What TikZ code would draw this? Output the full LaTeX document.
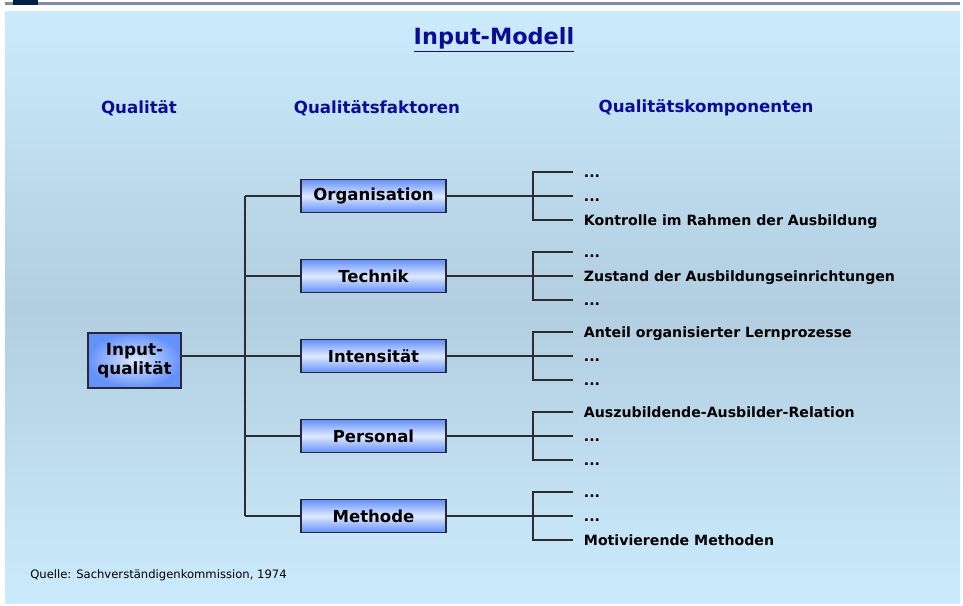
\documentclass[tikz,border=0pt]{standalone}
\usepackage{fontspec}
\setmainfont{DejaVu Sans}
\usetikzlibrary{calc}

\definecolor{panelTop}{RGB}{203,235,253}
\definecolor{panelMid}{RGB}{178,206,224}
\definecolor{headBlue}{RGB}{12,12,150}
\definecolor{boxBlue}{RGB}{100,145,250}
\definecolor{boxLight}{RGB}{222,232,255}
\definecolor{boxLine}{RGB}{40,40,60}
\definecolor{wireGray}{RGB}{45,45,45}
\definecolor{stripGray}{RGB}{130,140,160}
\definecolor{stripNavy}{RGB}{0,32,70}

\begin{document}
\begin{tikzpicture}[x=0.75pt,y=-0.75pt,
    header/.style={text=headBlue, font=\fontsize{12.5}{14}\selectfont\bfseries},
    factor/.style={draw=boxLine, line width=0.8pt, minimum width=108.75pt,
        minimum height=24.75pt, inner sep=0pt, top color=boxBlue,
        bottom color=boxBlue, middle color=boxLight,
        font=\fontsize{12.4}{14}\selectfont\bfseries},
    quality/.style={draw=boxLine, line width=0.8pt, minimum width=69.75pt,
        minimum height=41.25pt, inner sep=0pt, align=center,
        shading=radial, outer color=boxBlue, inner color=boxLight,
        font=\fontsize{12.6}{14}\selectfont\bfseries},
    comp/.style={anchor=west, inner xsep=8pt, inner ysep=0pt,
        text height=9.5pt, text depth=1.5pt,
        font=\fontsize{10.6}{12}\selectfont\bfseries},
    wire/.style={draw=wireGray, line width=0.8pt}]
    \useasboundingbox (0,0) rectangle (963,606);

    % background
    \fill[white] (0,0) rectangle (963,606);
    \shade[top color=panelTop, bottom color=panelTop, middle color=panelMid]
        (5,12) rectangle (960,603);
    \fill[stripGray] (5,2.5) rectangle (960,5);
    \fill[stripNavy] (13,0) rectangle (38,5);

    % title and columns
    \node[text=headBlue, font=\fontsize{16.8}{19}\selectfont\bfseries] (title)
        at (494,40) {\underline{Input-Modell}};
    \node[header] (hQual) at (139,108) {Qualität};
    \node[header] (hFak)  at (377,108) {Qualitätsfaktoren};
    \node[header] (hKomp) at (706,108) {Qualitätskomponenten};

    \node[quality] (in) at (134.5,360.5) {Input-\\qualität};
    \coordinate (trunk) at (245,0);

    \foreach \i/\y/\name in {1/196/Organisation, 2/276/Technik,
                             3/356/Intensität, 4/436/Personal, 5/516/Methode}{
        \node[factor] (f\i) at (373.5,\y) {\name};
        \coordinate (b\i) at (533,\y);
        \draw[wire] (f\i.west -| trunk) -- (f\i.west);
        \draw[wire] (f\i.east) -- (b\i);
    }
    \draw[wire] (f1.west -| trunk) -- (f5.west -| trunk);
    \draw[wire] (in.east |- f3.west) -- (f3.west -| trunk);

    % components
    \foreach \i/\ta/\tb/\tc in {
        1/{...}/{...}/{Kontrolle im Rahmen der Ausbildung},
        2/{...}/{Zustand der Ausbildungseinrichtungen}/{...},
        3/{Anteil organisierter Lernprozesse}/{...}/{...},
        4/{Auszubildende-Ausbilder-Relation}/{...}/{...},
        5/{...}/{...}/{Motivierende Methoden}}{
        \node[comp] (c\i a) at ($(b\i)+(40,-24)$) {\ta};
        \node[comp] (c\i b) at ($(b\i)+(40,0)$) {\tb};
        \node[comp] (c\i c) at ($(b\i)+(40,24)$) {\tc};
        \draw[wire] (c\i a.west) -| (b\i |- c\i c.west) -- (c\i c.west);
        \draw[wire] (b\i) -- (c\i b.west);
    }

    \node[anchor=west, inner sep=0pt, font=\fontsize{8.7}{10}\selectfont] (src)
        at (30,575) {Quelle: Sachverständigenkommission, 1974};
\end{tikzpicture}
\end{document}
